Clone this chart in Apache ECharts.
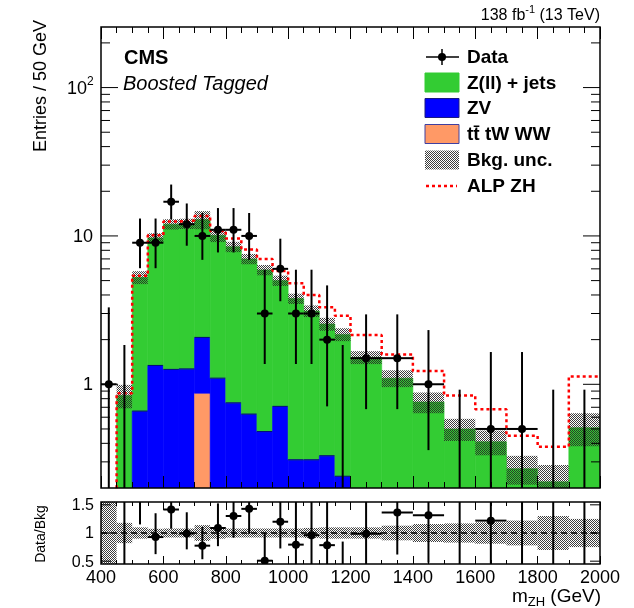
<!DOCTYPE html>
<html>
<head>
<meta charset="utf-8">
<title>ALP ZH - Boosted Tagged</title>
<script src="https://cdn.jsdelivr.net/npm/echarts@6.0.0/dist/echarts.min.js"></script>
<style>
  html, body { margin: 0; padding: 0; background: #fff; }
  #main { width: 634px; height: 608px; }
</style>
</head>
<body>
<div id="main"></div>
<script>
// bin edges in GeV (50 GeV up to 1200, then 100 GeV)
const binEdges = [400, 450, 500, 550, 600, 650, 700, 750, 800, 850, 900, 950, 1000,
  1050, 1100, 1150, 1200, 1300, 1400, 1500, 1600, 1700, 1800, 1900, 2000];

// observed data, entries / 50 GeV, with poisson interval bounds
const dataVals = [1, 0, 9, 9, 17, 12, 10, 11, 11, 10, 3, 6, 3, 3, 2, 0, 1.5, 1.5, 1, 0, 0.5, 0.5, 0, 0];
const dataLow = [0.17, 0, 6.06, 6.06, 12.92, 8.59, 6.9, 7.74, 7.74, 6.9, 1.37, 3.63, 1.37, 1.37, 0.71, 0,
  0.68, 0.68, 0.36, 0, 0.09, 0.09, 0, 0];
const dataHigh = [3.3, 1.84, 13.1, 13.1, 22.2, 16.55, 14.27, 15.41, 15.41, 14.27, 5.92, 9.58, 5.92, 5.92, 4.64, 1.84,
  2.96, 2.96, 2.32, 0.92, 1.65, 1.65, 0.92, 0.92];

// backgrounds (stacked: ttbar at bottom, then ZV, then Z+jets)
const zjets = [0.03, 0.74, 4.6, 8.36, 10.74, 10.83, 10.83, 9.0, 7.7, 6.37, 5.42, 4.29, 3.47, 2.81, 2.22, 1.93,
  1.4, 1.02, 0.7, 0.45, 0.37, 0.24, 0.19, 0.48];
const zv = [0.02, 0.1, 0.66, 1.34, 1.26, 1.27, 1.2, 1.1, 0.75, 0.63, 0.48, 0.71, 0.31, 0.31, 0.33, 0.24,
  0.12, 0.08, 0.06, 0.05, 0.04, 0.03, 0.03, 0.03];
const ttbar = [0, 0, 0, 0, 0, 0, 0.87, 0, 0, 0, 0, 0, 0, 0, 0, 0, 0, 0, 0, 0, 0, 0, 0, 0];
const bkgRelUnc = [0.6, 0.18, 0.1, 0.075, 0.08, 0.08, 0.14, 0.1, 0.08, 0.08, 0.08, 0.08, 0.08, 0.09, 0.1, 0.1,
  0.1, 0.13, 0.16, 0.17, 0.19, 0.22, 0.3, 0.25];

// signal + background
const alpZH = [0.1, 0.87, 5.4, 10.1, 12.5, 12.7, 13.6, 10.8, 9.6, 8.1, 7.0, 5.8, 4.8, 4.0, 3.3, 2.9,
  2.15, 1.59, 1.23, 0.84, 0.68, 0.45, 0.38, 1.13];

// axis ticks
const yMajorTicks = [1, 10, 100];
const yMinorTicks = [0.3, 0.4, 0.5, 0.6, 0.7, 0.8, 0.9, 2, 3, 4, 5, 6, 7, 8, 9, 20, 30, 40, 50, 60, 70, 80, 90, 200];
const ratioTicks = [0.5, 1, 1.5];

const Y_MIN = 0.2, Y_MAX = 256;
const R_MIN = 0.45, R_MAX = 1.55;
const MAIN = { left: 101, top: 27, width: 499, height: 461 };
const RATIO = { left: 101, top: 502, width: 499, height: 62 };
const FONT = '"Liberation Sans", Arial, Helvetica, sans-serif';
const GREEN = '#33cc33', BLUE = '#0000ff', ORANGE = '#ff9966';

const bkgTotal = zjets.map((v, i) => v + zv[i] + ttbar[i]);
const bins = binEdges.slice(0, -1).map((lo, i) => [lo, binEdges[i + 1], i]);

// checker pattern used for the background uncertainty
function makeHatch() {
  const c = document.createElement('canvas');
  c.width = 4; c.height = 4;
  const ctx = c.getContext('2d');
  ctx.fillStyle = 'rgba(40,40,40,0.9)';
  for (let y = 0; y < 4; y++) {
    for (let x = 0; x < 4; x++) {
      if ((x + y) % 2 === 0) ctx.fillRect(x, y, 1, 1);
    }
  }
  return c;
}
const hatch = { image: makeHatch(), repeat: 'repeat' };

const low = (v) => Math.max(v, Y_MIN * 0.5);

function rectBetween(api, x0, x1, y0, y1) {
  const a = api.coord([x0, y1]);
  const b = api.coord([x1, y0]);
  return { x: a[0], y: a[1], width: b[0] - a[0], height: b[1] - a[1] };
}

function stackItem(params, api) {
  const lo = api.value(0), hi = api.value(1), i = api.value(2);
  const t0 = ttbar[i], t1 = t0 + zv[i], t2 = t1 + zjets[i];
  const layers = [[0, t0, ORANGE], [t0, t1, BLUE], [t1, t2, GREEN]];
  const children = [];
  layers.forEach(([a, b, c]) => {
    if (b <= a || b <= Y_MIN * 0.5) return;
    children.push({
      type: 'rect', shape: rectBetween(api, lo, hi, low(a), low(b)),
      style: { fill: c, stroke: c, lineWidth: 0.6 }
    });
  });
  // dark outline on top of ZV
  const pl = api.coord([lo, low(t1)]), pr = api.coord([hi, low(t1)]);
  children.push({ type: 'line', shape: { x1: pl[0], y1: pl[1], x2: pr[0], y2: pr[1] },
    style: { stroke: '#000080', lineWidth: 1 } });
  return { type: 'group', children };
}

function bandItem(params, api) {
  const lo = api.value(0), hi = api.value(1), i = api.value(2);
  const t = bkgTotal[i], u = bkgRelUnc[i];
  return { type: 'rect', shape: rectBetween(api, lo, hi, low(t * (1 - u)), low(t * (1 + u))),
    style: { fill: hatch } };
}

function pointGroup(api, lo, hi, v, vLow, vHigh, draw) {
  const mid = (lo + hi) / 2;
  const top = api.coord([mid, vHigh]);
  const bot = api.coord([mid, vLow]);
  const st = { stroke: '#000', lineWidth: 2 };
  const children = [{ type: 'line', shape: { x1: top[0], y1: top[1], x2: bot[0], y2: bot[1] }, style: st }];
  if (draw) {
    const l = api.coord([lo, v]), r = api.coord([hi, v]), c = api.coord([mid, v]);
    children.push({ type: 'line', shape: { x1: l[0], y1: l[1], x2: r[0], y2: r[1] }, style: st });
    children.push({ type: 'circle', shape: { cx: c[0], cy: c[1], r: 4 }, style: { fill: '#000' } });
  }
  return { type: 'group', children };
}

function dataItem(params, api) {
  const lo = api.value(0), hi = api.value(1), i = api.value(2);
  return pointGroup(api, lo, hi, dataVals[i], low(dataLow[i]), dataHigh[i], dataVals[i] > 0);
}

function ratioBandItem(params, api) {
  const lo = api.value(0), hi = api.value(1), i = api.value(2);
  const u = bkgRelUnc[i];
  return { type: 'rect', shape: rectBetween(api, lo, hi, 1 - u, 1 + u), style: { fill: hatch } };
}

function ratioDataItem(params, api) {
  const lo = api.value(0), hi = api.value(1), i = api.value(2);
  const b = bkgTotal[i];
  return pointGroup(api, lo, hi, dataVals[i] / b, dataLow[i] / b, dataHigh[i] / b, dataVals[i] > 0);
}

function tickText(x, y, text, size, align) {
  return { type: 'text', x, y, style: { text, font: size + 'px ' + FONT, fill: '#000',
    align, textAlign: align, verticalAlign: 'middle', textVerticalAlign: 'middle' } };
}

function yTickItem(params, api) {
  const v = api.value(1), major = api.value(2);
  const l = api.coord([400, v]), r = api.coord([2000, v]);
  const len = major ? 17 : 9;
  const st = { stroke: '#000', lineWidth: 1 };
  const children = [
    { type: 'line', shape: { x1: l[0], y1: l[1], x2: l[0] + len, y2: l[1] }, style: st },
    { type: 'line', shape: { x1: r[0] - len, y1: r[1], x2: r[0], y2: r[1] }, style: st }
  ];
  if (major) {
    if (v === 100) {
      children.push(tickText(l[0] - 14, l[1] + 1, '10', 18, 'right'));
      children.push(tickText(l[0] - 14, l[1] - 6, '2', 12, 'left'));
    } else {
      children.push(tickText(l[0] - 8, l[1] + 1, String(v), 18, 'right'));
    }
  }
  return { type: 'group', children };
}

function ratioTickItem(params, api) {
  const v = api.value(1);
  const l = api.coord([400, v]), r = api.coord([2000, v]);
  const st = { stroke: '#000', lineWidth: 1 };
  return { type: 'group', children: [
    { type: 'line', shape: { x1: l[0], y1: l[1], x2: l[0] + 10, y2: l[1] }, style: st },
    { type: 'line', shape: { x1: r[0] - 10, y1: r[1], x2: r[0], y2: r[1] }, style: st },
    tickText(l[0] - 7, l[1] + 1, String(v), 16, 'right')
  ] };
}

function xAxisDef(gridIndex, position, showLabel, major, minor) {
  return {
    type: 'value', gridIndex, position, min: 400, max: 2000, interval: 200, z: 10,
    axisLine: { show: false },
    axisTick: { show: true, inside: true, length: major, lineStyle: { color: '#000', width: 1 } },
    minorTick: { show: true, splitNumber: 4, length: minor, lineStyle: { color: '#000', width: 1 } },
    axisLabel: { show: showLabel, color: '#000', fontSize: 18, fontFamily: FONT, margin: 5,
      formatter: (v) => String(v) },
    splitLine: { show: false },
    minorSplitLine: { show: false }
  };
}

const hiddenY = {
  axisLine: { show: false }, axisTick: { show: false },
  axisLabel: { show: false }, splitLine: { show: false }
};

// text pieces laid out from the right edge (for super/subscripts)
const measureCtx = document.createElement('canvas').getContext('2d');
function textRuns(runs, rightX, y) {
  let total = 0;
  runs.forEach((r) => {
    measureCtx.font = r.font;
    r.w = measureCtx.measureText(r.text).width;
    total += r.w;
  });
  let x = rightX - total;
  return runs.map((r) => {
    const el = { type: 'text', x, y: y + (r.dy || 0), z: 100, silent: true,
      style: { text: r.text, font: r.font, fill: '#000', align: 'left', textAlign: 'left',
        verticalAlign: 'middle', textVerticalAlign: 'middle' } };
    x += r.w;
    return el;
  });
}

function label(x, y, text, font, extra) {
  return Object.assign({ type: 'text', x, y, z: 100, silent: true,
    style: { text, font, fill: '#000', align: 'left', textAlign: 'left',
      verticalAlign: 'middle', textVerticalAlign: 'middle' } }, extra || {});
}

// legend
const legX = 425, legW = 34, legH = 19, legTextX = 467;
const legRows = [57, 82.5, 108, 134, 160, 186];
const legNames = ['Data', 'Z(ll) + jets', 'ZV', 't\u0074\u0304 tW WW', 'Bkg. unc.', 'ALP ZH'];
const legFont = 'bold 19px ' + FONT;
const legend = [];
legNames.forEach((name, k) => legend.push(label(legTextX, legRows[k] + 1, name, legFont)));
legend.push({ type: 'line', z: 100, shape: { x1: legX + 1, y1: legRows[0], x2: legX + legW, y2: legRows[0] }, style: { stroke: '#000', lineWidth: 1.5 } });
legend.push({ type: 'line', z: 100, shape: { x1: legX + legW / 2, y1: legRows[0] - 8, x2: legX + legW / 2, y2: legRows[0] + 8 }, style: { stroke: '#000', lineWidth: 1.5 } });
legend.push({ type: 'circle', z: 100, shape: { cx: legX + legW / 2, cy: legRows[0], r: 4 }, style: { fill: '#000' } });
[[GREEN, GREEN], [BLUE, '#1a1a80'], [ORANGE, '#4040a0']].forEach(([f, s], k) => {
  legend.push({ type: 'rect', z: 100, shape: { x: legX, y: legRows[k + 1] - legH / 2, width: legW, height: legH },
    style: { fill: f, stroke: s, lineWidth: 1 } });
});
legend.push({ type: 'rect', z: 100, shape: { x: legX, y: legRows[4] - legH / 2, width: legW, height: legH }, style: { fill: hatch } });
legend.push({ type: 'line', z: 100, shape: { x1: legX + 1, y1: legRows[5], x2: legX + legW - 2, y2: legRows[5] },
  style: { stroke: '#ff0000', lineWidth: 2.5, lineDash: [3, 3] } });

const chart = echarts.init(document.getElementById('main'), null, { renderer: 'canvas' });
const option = {
  animation: false,
  backgroundColor: '#fff',
  grid: [
    Object.assign({ containLabel: false, outerBoundsMode: 'none', show: false }, MAIN),
    Object.assign({ containLabel: false, outerBoundsMode: 'none', show: false }, RATIO)
  ],
  xAxis: [
    xAxisDef(0, 'bottom', false, 12, 6),
    xAxisDef(0, 'top', false, 12, 6),
    xAxisDef(1, 'bottom', true, 8, 4),
    xAxisDef(1, 'top', false, 8, 4)
  ],
  yAxis: [
    Object.assign({ type: 'log', logBase: 10, gridIndex: 0, min: Y_MIN, max: Y_MAX }, hiddenY),
    Object.assign({ type: 'value', gridIndex: 1, min: R_MIN, max: R_MAX }, hiddenY)
  ],
  series: [
    { name: 'stack', type: 'custom', xAxisIndex: 0, yAxisIndex: 0, clip: true, z: 2,
      renderItem: stackItem, data: bins, encode: { x: [0, 1] } },
    { name: 'Bkg. unc.', type: 'custom', xAxisIndex: 0, yAxisIndex: 0, clip: true, z: 3,
      renderItem: bandItem, data: bins, encode: { x: [0, 1] } },
    { name: 'ALP ZH', type: 'line', xAxisIndex: 0, yAxisIndex: 0, clip: true, z: 4,
      showSymbol: false, symbol: 'none',
      lineStyle: { color: '#ff0000', width: 2.5, type: [3, 3] },
      data: bins.flatMap(([lo, hi, i]) => [[lo, alpZH[i]], [hi, alpZH[i]]]) },
    { name: 'Data', type: 'custom', xAxisIndex: 0, yAxisIndex: 0, clip: true, z: 5,
      renderItem: dataItem, data: bins, encode: { x: [0, 1] } },
    { name: 'yticks', type: 'custom', xAxisIndex: 0, yAxisIndex: 0, clip: false, z: 10,
      renderItem: yTickItem, encode: { x: 0, y: 1 },
      data: yMajorTicks.map((v) => [400, v, 1]).concat(yMinorTicks.map((v) => [400, v, 0])) },
    { name: 'ratio band', type: 'custom', xAxisIndex: 2, yAxisIndex: 1, clip: true, z: 3,
      renderItem: ratioBandItem, data: bins, encode: { x: [0, 1] } },
    { name: 'unity', type: 'line', xAxisIndex: 2, yAxisIndex: 1, z: 4, symbol: 'none',
      lineStyle: { color: '#000', width: 1.5, type: [6, 4] }, data: [[400, 1], [2000, 1]] },
    { name: 'ratio data', type: 'custom', xAxisIndex: 2, yAxisIndex: 1, clip: true, z: 5,
      renderItem: ratioDataItem, data: bins, encode: { x: [0, 1] } },
    { name: 'rticks', type: 'custom', xAxisIndex: 2, yAxisIndex: 1, clip: false, z: 10,
      renderItem: ratioTickItem, encode: { x: 0, y: 1 },
      data: ratioTicks.map((v) => [400, v]) }
  ],
  graphic: [
    { type: 'rect', z: 100, silent: true, shape: { x: MAIN.left, y: MAIN.top, width: MAIN.width, height: MAIN.height },
      style: { fill: 'none', stroke: '#000', lineWidth: 1.5 } },
    { type: 'rect', z: 100, silent: true, shape: { x: RATIO.left, y: RATIO.top, width: RATIO.width, height: RATIO.height },
      style: { fill: 'none', stroke: '#000', lineWidth: 1.5 } },
    label(124, 58, 'CMS', 'bold 20px ' + FONT),
    label(123, 84, 'Boosted Tagged', 'italic 20px ' + FONT),
    label(41, 20, 'Entries / 50 GeV', '18px ' + FONT,
      { rotation: Math.PI / 2, style: { text: 'Entries / 50 GeV', font: '18px ' + FONT, fill: '#000',
        align: 'right', textAlign: 'right', verticalAlign: 'middle', textVerticalAlign: 'middle' } }),
    label(41, 534, 'Data/Bkg', '14px ' + FONT,
      { rotation: Math.PI / 2, style: { text: 'Data/Bkg', font: '14px ' + FONT, fill: '#000',
        align: 'center', textAlign: 'center', verticalAlign: 'middle', textVerticalAlign: 'middle' } })
  ]
    .concat(textRuns([
      { text: '138 fb', font: '16px ' + FONT },
      { text: '-1', font: '11px ' + FONT, dy: -6 },
      { text: ' (13 TeV)', font: '16px ' + FONT }
    ], 600, 16))
    .concat(textRuns([
      { text: 'm', font: '19px ' + FONT },
      { text: 'ZH', font: '13px ' + FONT, dy: 5 },
      { text: ' (GeV)', font: '19px ' + FONT }
    ], 601, 597))
    .concat(legend)
};
chart.setOption(option);
</script>
</body>
</html>
